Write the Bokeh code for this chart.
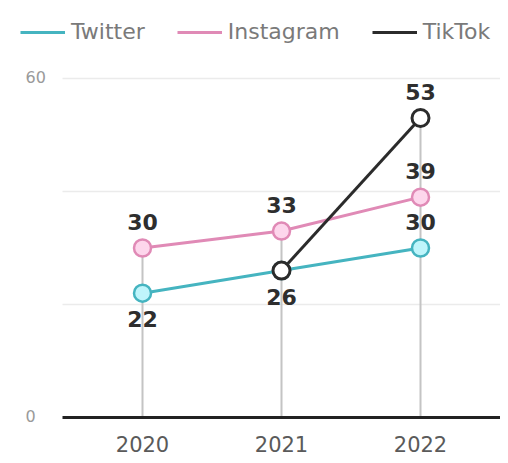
from bokeh.plotting import figure
from bokeh.models import Range1d, FixedTicker, Legend, LegendItem, ColumnDataSource
from bokeh.embed import file_html
from bokeh.resources import INLINE
from bokeh.core.properties import value

years = [2020, 2021, 2022]
twitter = [22, 26, 30]
instagram = [30, 33, 39]
tiktok_years = [2021, 2022]
tiktok = [26, 53]
y_tick_values = [0, 60]
grid_values = [20, 40, 60]

# label placement: above the point or below it
twitter_labels_above = [False, False, True]
instagram_labels_above = [True, True, True]
tiktok_label_years = [2022]
tiktok_label_values = [53]

TW_LINE, TW_FILL = "#45b4c0", "#bff5fb"
IG_LINE, IG_FILL = "#e08ab6", "#fdd6ec"
TT_LINE, TT_FILL = "#2b2b2b", "#ffffff"
FONT = "DejaVu Sans"

W, H = 500, 460
AXIS_L, ZERO_Y = 62, 417
PX_YEAR, PX_UNIT = 139, 5.65

p = figure(width=W, height=H, output_backend="svg", toolbar_location=None,
           min_border_left=0, min_border_right=0, min_border_top=0,
           min_border_bottom=0, y_axis_location=None)
x_start = 2020 - 142 / PX_YEAR
x_end = x_start + W / PX_YEAR
p.x_range = Range1d(x_start, x_end)
p.y_range = Range1d(-(H - ZERO_Y) / PX_UNIT, ZERO_Y / PX_UNIT)
p.outline_line_color = None
p.background_fill_color = "white"
axis_start = 2020 - (142 - AXIS_L) / PX_YEAR

# grid
p.xgrid.visible = False
p.ygrid.ticker = FixedTicker(ticks=grid_values)
p.ygrid.grid_line_color = "#ebebeb"
p.ygrid.grid_line_width = 1.5
if "cross_bounds" in p.ygrid[0].properties():
    p.ygrid.cross_bounds = (axis_start, x_end)

# x axis, drawn at y = 0
p.xaxis.fixed_location = 0
p.xaxis.ticker = FixedTicker(ticks=years)
p.xaxis.bounds = (axis_start, x_end)
p.xaxis.axis_line_color = "#222222"
p.xaxis.axis_line_width = 3
p.xaxis.major_tick_line_color = None
p.xaxis.minor_tick_line_color = None
p.xaxis.major_label_text_color = "#5a5a5a"
p.xaxis.major_label_text_font = FONT
p.xaxis.major_label_text_font_size = "21px"
p.xaxis.major_label_standoff = 12

# y tick labels
p.text(x=[x_start] * len(y_tick_values), y=y_tick_values, text=[str(v) for v in y_tick_values],
       x_offset=25, y_offset=-2, text_align="left", text_baseline="middle", text_font=value(FONT),
       text_font_size="16px", text_color="#9a9a9a")

# vertical stems up to the highest point of each year
stem_top = [max(t, i) for t, i in zip(twitter, instagram)]
for y, v in zip(tiktok_years, tiktok):
    k = years.index(y)
    stem_top[k] = max(stem_top[k], v)
p.segment(x0=years, y0=[0] * len(years), x1=years, y1=stem_top, line_color="#c4c4c4", line_width=2)

# lines
r_tw = p.line(years, twitter, line_color=TW_LINE, line_width=3)
r_ig = p.line(years, instagram, line_color=IG_LINE, line_width=3)
r_tt = p.line(tiktok_years, tiktok, line_color=TT_LINE, line_width=3)

p.scatter(years, instagram, size=17, fill_color=IG_FILL, line_color=IG_LINE, line_width=2.5)
p.scatter(years, twitter, size=17, fill_color=TW_FILL, line_color=TW_LINE, line_width=2.5)
p.scatter(tiktok_years, tiktok, size=17, fill_color=TT_FILL, line_color=TT_LINE, line_width=3)

# data labels
lx, ly, lt, loff = [], [], [], []
for x, v, a in zip(years, twitter, twitter_labels_above):
    lx.append(x); ly.append(v); lt.append(str(v)); loff.append(-26 if a else 26)
for x, v, a in zip(years, instagram, instagram_labels_above):
    lx.append(x); ly.append(v); lt.append(str(v)); loff.append(-26 if a else 26)
for x, v in zip(tiktok_label_years, tiktok_label_values):
    lx.append(x); ly.append(v); lt.append(str(v)); loff.append(-26)
src = ColumnDataSource(dict(x=lx, y=ly, text=lt, off=loff))
p.text(x="x", y="y", text="text", y_offset="off", source=src, text_align="center",
       text_baseline="middle", text_font=value(FONT), text_font_style="bold",
       text_font_size="22px", text_color="#2e2e2e")

legend = Legend(items=[LegendItem(label="Twitter", renderers=[r_tw]),
                       LegendItem(label="Instagram", renderers=[r_ig]),
                       LegendItem(label="TikTok", renderers=[r_tt])],
                orientation="horizontal", location=(20, H - 44),
                glyph_width=45, glyph_height=20, label_height=20,
                label_standoff=6, spacing=32, padding=0, margin=0,
                border_line_color=None, background_fill_alpha=0,
                label_text_font=FONT, label_text_font_size="22px",
                label_text_color="#7a7a7a")
p.add_layout(legend)

open("out.html", "w").write(file_html(p, INLINE))
